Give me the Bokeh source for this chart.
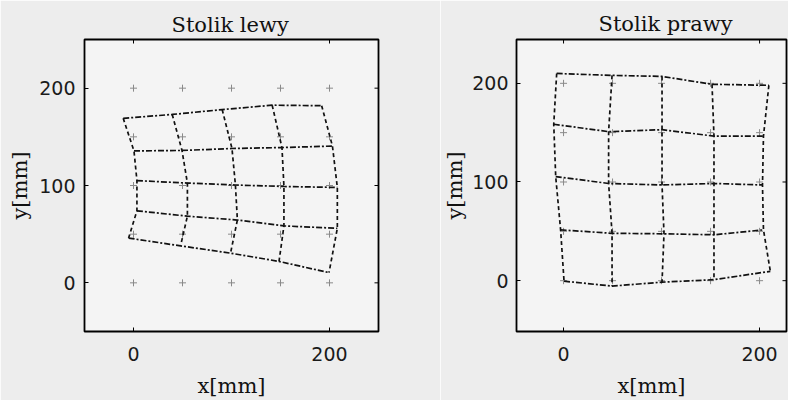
import math
from bokeh.plotting import figure
from bokeh.models import Range1d, FixedTicker
from bokeh.layouts import row
from bokeh.embed import file_html
from bokeh.resources import INLINE

# nominal calibration grid (mm)
nominal = [0, 50, 100, 150, 200]
x_ticks = [0, 200]
y_ticks = [0, 100, 200]

# Stolik lewy: measured node positions, rows for nominal y = 200, 150, 100, 50, 0
left_x_200 = [-10.5, 39.5, 90.5, 141.5, 192]
left_y_200 = [169, 173, 178, 182.5, 182]
left_x_150 = [0.5, 49.5, 100.5, 151.5, 203]
left_y_150 = [135.5, 136, 138, 139, 140.5]
left_x_100 = [3.5, 55, 104, 153.5, 208]
left_y_100 = [105, 102.5, 100.5, 99, 98]
left_x_50 = [3.5, 55, 106, 153.5, 208]
left_y_50 = [74, 68.5, 64.5, 58.5, 56]
left_x_0 = [-5, 48, 99, 148.5, 199.5]
left_y_0 = [46, 38, 30.5, 22, 10.5]

# Stolik prawy
right_x_200 = [-7, 49.5, 100.5, 151.5, 209.5]
right_y_200 = [210, 208, 207, 199, 198]
right_x_150 = [-10, 46, 100.5, 153.5, 204]
right_y_150 = [158.5, 151, 153, 146.5, 146.5]
right_x_100 = [-8, 46, 100.5, 153.5, 203]
right_y_100 = [105.5, 98.5, 97, 98.5, 97]
right_x_50 = [-3, 49.5, 102.5, 153.5, 204]
right_y_50 = [51.5, 48, 47.5, 46.5, 51.5]
right_x_0 = [0.5, 49.5, 100.5, 153.5, 211]
right_y_0 = [-0.5, -5.5, -1.5, 1, 9.5]

left_rows_x = [left_x_200, left_x_150, left_x_100, left_x_50, left_x_0]
left_rows_y = [left_y_200, left_y_150, left_y_100, left_y_50, left_y_0]
right_rows_x = [right_x_200, right_x_150, right_x_100, right_x_50, right_x_0]
right_rows_y = [right_y_200, right_y_150, right_y_100, right_y_50, right_y_0]

SERIF = "DejaVu Serif"
SANS = "DejaVu Sans"


def make_panel(title, rows_x, rows_y, xr, yr, w, h, bl, br, bt, bb,
               title_offset, title_standoff, xlabel_standoff, ytick_standoff, ylabel_standoff):
    p = figure(width=w, height=h, x_range=Range1d(*xr), y_range=Range1d(*yr),
               output_backend="svg", toolbar_location=None,
               min_border_left=bl, min_border_right=br, min_border_top=bt, min_border_bottom=bb,
               background_fill_color="#f4f4f4", border_fill_color="#ededed",
               outline_line_color="black", outline_line_width=1.8)
    p.title.text = title
    p.title.text_font = SERIF
    p.title.text_font_size = "21px"
    p.title.text_font_style = "normal"
    p.title.text_color = "#111111"
    p.title.align = "left"
    p.title.offset = title_offset
    p.title.standoff = title_standoff
    p.grid.visible = False

    p.xaxis.ticker = FixedTicker(ticks=x_ticks)
    p.yaxis.ticker = FixedTicker(ticks=y_ticks)
    for ax in (p.xaxis[0], p.yaxis[0]):
        ax.major_tick_in = 4
        ax.major_tick_out = 0
        ax.minor_tick_in = 0
        ax.minor_tick_out = 0
        ax.axis_line_color = None
        ax.major_tick_line_color = "black"
        ax.major_label_text_font = SANS
        ax.major_label_text_font_size = "19px"
        ax.major_label_text_color = "#1a1a1a"
        ax.axis_label_text_font = SERIF
        ax.axis_label_text_font_size = "21px"
        ax.axis_label_text_font_style = "normal"
        ax.axis_label_text_color = "#111111"
    p.xaxis.axis_label = "x[mm]"
    p.yaxis.axis_label = "y[mm]"
    p.xaxis.major_label_standoff = 15
    p.xaxis.axis_label_standoff = xlabel_standoff
    p.yaxis.major_label_standoff = ytick_standoff
    p.yaxis.axis_label_standoff = ylabel_standoff

    # inward tick marks on the top and right edges of the frame
    p.scatter(x_ticks, [yr[1]] * len(x_ticks), marker="dash", angle=math.pi / 2,
              size=8, line_color="black", line_width=1)
    p.scatter([xr[1]] * len(y_ticks), y_ticks, marker="dash",
              size=8, line_color="black", line_width=1)

    # nominal reference points
    nx = [x for y in nominal for x in nominal]
    ny = [y for y in nominal for x in nominal]
    p.scatter(nx, ny, marker="cross", size=7, line_color="#8a8a8a", line_width=1)

    # measured distorted grid
    cols_x = [[r[j] for r in rows_x] for j in range(5)]
    cols_y = [[r[j] for r in rows_y] for j in range(5)]
    p.multi_line(cols_x, cols_y, line_color="#111111", line_width=1.7, line_dash="4 3")
    p.multi_line(rows_x, rows_y, line_color="#111111", line_width=1.7, line_dash="6 2 2 2")
    return p


p1 = make_panel("Stolik lewy", left_rows_x, left_rows_y, (-50, 250), (-50, 250),
                440, 400, 84, 62, 39, 68, 87, 5, 10, 9, 4)
p2 = make_panel("Stolik prawy", right_rows_x, right_rows_y, (-48, 227.5), (-51.5, 244.4),
                348, 400, 76, 2, 39, 68, 82, 7, 10, 8, 2)

layout = row(p1, p2)
open("out.html", "w").write(file_html(layout, INLINE))
